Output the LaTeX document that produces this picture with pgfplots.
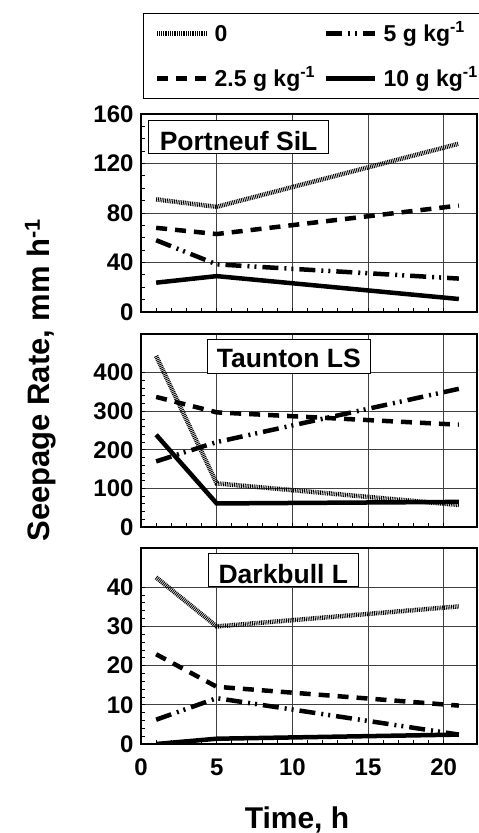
\documentclass[border=0pt]{standalone}
\usepackage{pgfplots}
\pgfplotsset{compat=1.18}
\usepackage{fontspec}
\setmainfont{Liberation Sans}
\newcommand\fs[1]{\fontsize{#1}{#1}\selectfont\bfseries}
\begin{document}
\begin{tikzpicture}
\path[use as bounding box] (0pt,0pt) rectangle (479pt,-833pt);
\tikzset{
  lab/.style={draw, fill=white, line width=1pt, anchor=north west, font=\fs{26.5},
    inner xsep=0pt, inner ysep=0pt, align=center},
}
\pgfplotsset{
  panel/.style={
    scale only axis, width=336pt,
    xmin=0, xmax=22.2,
    xtick={0,5,...,20}, minor x tick num=4,
    tick pos=left, tick align=inside,
    major tick length=4pt, minor tick length=4pt,
    grid=major, major grid style={black!75, line width=0.8pt},
    axis line style={line width=1.3pt},
    tick style={black, line width=0.8pt},
    every tick label/.append style={font=\fs{24}},
    /pgf/number format/assume math mode=true,
    yticklabel style={xshift=-4pt},
    xticklabel style={yshift=-11pt},
    legend image code/.code={\draw[##1] (8pt,0pt) -- (57pt,0pt); \path (0pt,0pt) (62pt,0pt);},
  },
  s0/.style={black, line width=4.5pt, dash pattern=on 0.9pt off 0.9pt},
  s25/.style={black, line width=4.5pt, dash pattern=on 11pt off 8pt},
  s5/.style={black, line width=4.5pt, dash pattern=on 16pt off 6pt on 2pt off 5pt on 2pt off 6pt},
  s10/.style={black, line width=4.5pt},
}
% Portneuf SiL
\begin{axis}[panel, at={(141pt,-114pt)}, anchor=north west, height=198pt,
  ymin=0, ymax=160, ytick={0,40,...,160}, minor y tick num=3,
  xticklabels={},
  legend columns=2, transpose legend, legend cell align=left,
  legend style={at={(rel axis cs:0,1)}, anchor=north west, xshift=1.6pt, yshift=101pt,
    draw=black, line width=1.2pt, font=\fs{23}, inner xsep=4pt, inner ysep=8pt,
    nodes={inner sep=1pt, text height=19pt, text depth=3pt}, row sep=21pt}]
\addplot[s0] coordinates {(1,91) (5,85) (21,136)};
\addlegendentry{0}
\addplot[s25] coordinates {(1,68) (5,63) (21,86)};
\addlegendentry{2.5 g kg\textsuperscript{-1}}
\addplot[s5] coordinates {(1,58) (5,38.5) (21,27)};
\addlegendentry{5 g kg\textsuperscript{-1}}
\addplot[s10] coordinates {(1,23.7) (5,29) (21,10.5)};
\addlegendentry{10 g kg\textsuperscript{-1}}
\node[lab, minimum width=180pt, text height=30pt, text depth=3pt] at (axis description cs:0.021,0.97) {Portneuf SiL};
\end{axis}
% Taunton LS
\begin{axis}[panel, at={(141pt,-334pt)}, anchor=north west, height=193pt,
  ymin=0, ymax=500, ytick={0,100,...,400}, minor y tick num=4,
  xticklabels={}]
\addplot[s0] coordinates {(1,443) (5,113) (21,57)};
\addplot[s25] coordinates {(1,337) (5,297) (21,265)};
\addplot[s5] coordinates {(1,170) (5,220) (21,358)};
\addplot[s10] coordinates {(1,239) (5,61) (21,65)};
\node[lab, minimum width=163pt, text height=28pt, text depth=6pt] at (axis description cs:0.196,0.974) {Taunton LS};
\end{axis}
% Darkbull L
\begin{axis}[panel, at={(141pt,-548pt)}, anchor=north west, height=196pt,
  ymin=0, ymax=50, ytick={0,10,...,40}, minor y tick num=4]
\addplot[s0] coordinates {(1,42.5) (5,30) (21,35.1)};
\addplot[s25] coordinates {(1,22.9) (5,14.6) (21,9.8)};
\addplot[s5] coordinates {(1,6.2) (5,11.7) (21,2.4)};
\addplot[s10] coordinates {(1,0) (5,1.35) (21,2.4)};
\node[lab, minimum width=150pt, text height=30pt, text depth=3pt] at (axis description cs:0.199,0.974) {Darkbull L};
\end{axis}
\node[rotate=90, anchor=base, font=\fs{31}, inner sep=0pt] at (49pt,-380pt) {Seepage Rate, mm h\textsuperscript{-1}};
\node[anchor=base, font=\fs{30}, inner sep=0pt] at (297pt,-828pt) {Time, h};
\end{tikzpicture}
\end{document}
